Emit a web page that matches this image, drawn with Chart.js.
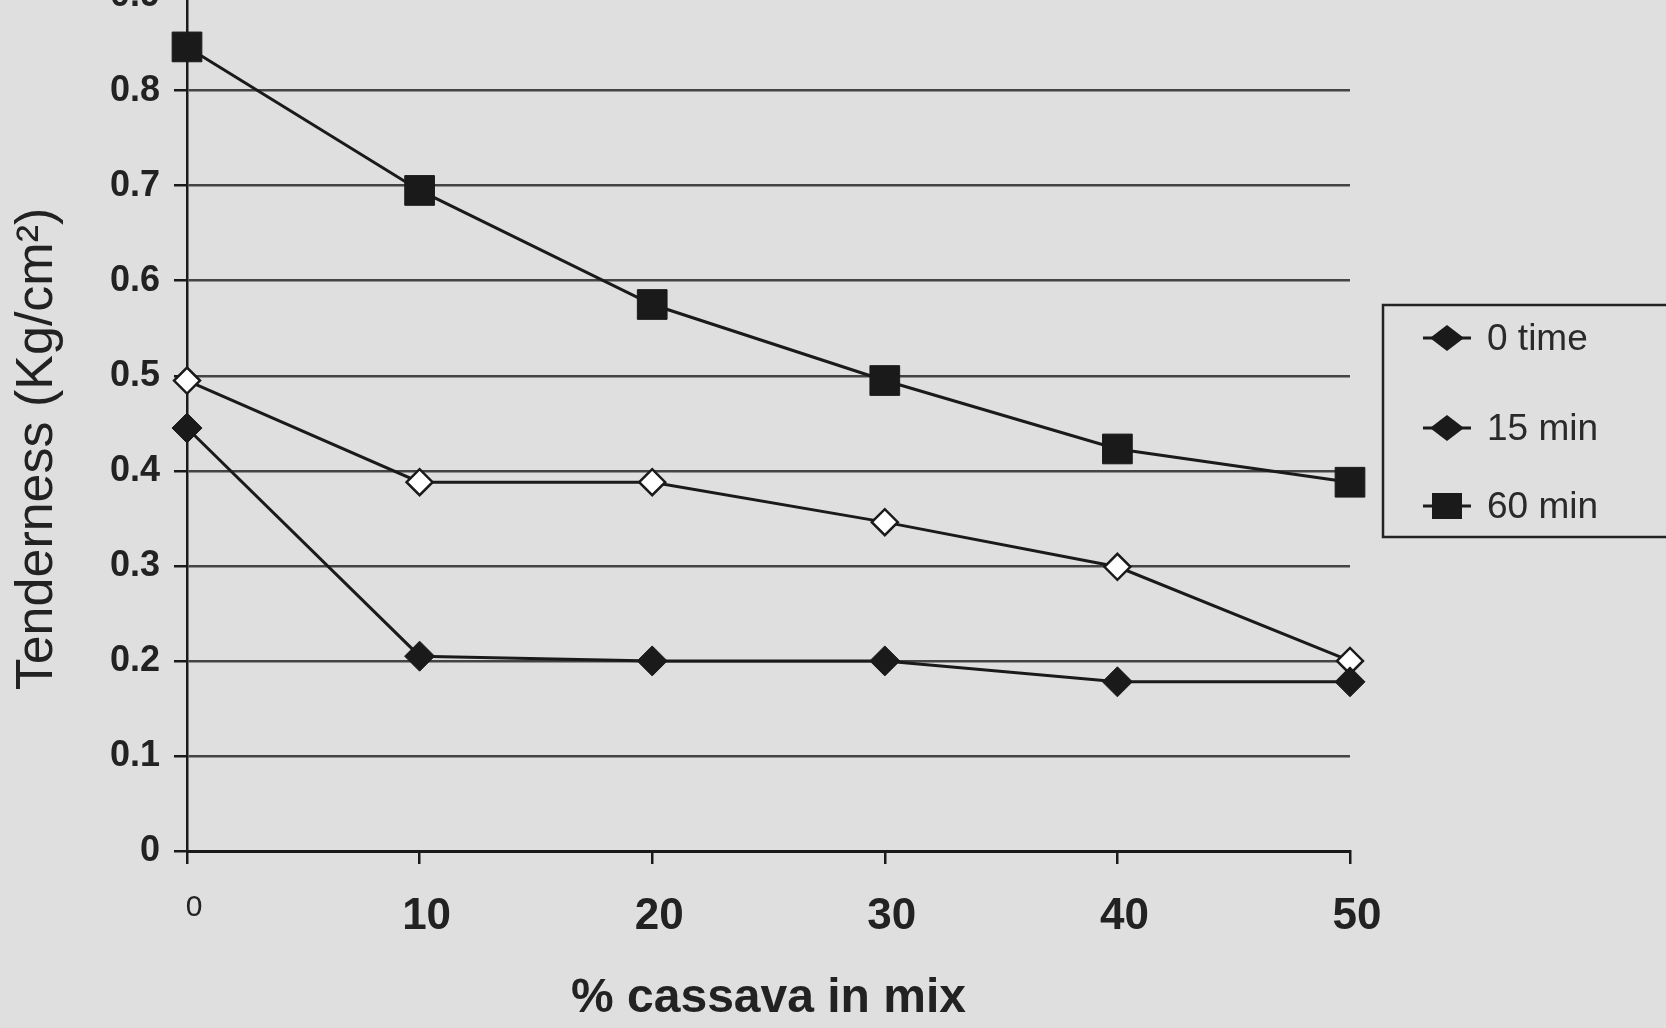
<!DOCTYPE html>
<html><head><meta charset="utf-8">
<script src="https://cdn.jsdelivr.net/npm/chart.js@4.4.0/dist/chart.umd.min.js"></script>
<style>
html,body{margin:0;padding:0;background:#dfdfdf;overflow:hidden;width:1666px;height:1028px;}
#wrap{position:absolute;left:0;top:-40px;width:1666px;height:1068px;}
</style></head><body>
<div id="wrap"><canvas id="c"></canvas></div>
<script>
const cassava = [0, 10, 20, 30, 40, 50];
const time0 = [0.445, 0.205, 0.200, 0.200, 0.178, 0.178];
const min15 = [0.495, 0.388, 0.388, 0.346, 0.299, 0.200];
const min60 = [0.846, 0.695, 0.575, 0.495, 0.423, 0.388];
const seriesLabels = ['0 time', '15 min', '60 min'];
const xTicks = [0, 10, 20, 30, 40, 50];
const yTicks = [0, 0.1, 0.2, 0.3, 0.4, 0.5, 0.6, 0.7, 0.8, 0.9];
const xTitle = '% cassava in mix';
const yTitle = 'Tenderness (Kg/cm\u00B2)';

const FONT = "'Liberation Sans', Arial, Helvetica, sans-serif";
const INK = '#1a1a1a';

function pts(vals) { return cassava.map((x, i) => ({ x: x, y: vals[i] })); }

const boxLegend = {
  id: 'boxLegend',
  afterDraw(chart) {
    const ctx = chart.ctx;
    const left = 1383, top = 345, bottom = 577, right = 1720;
    ctx.save();
    ctx.strokeStyle = '#222';
    ctx.lineWidth = 2.5;
    ctx.strokeRect(left, top, right - left, bottom - top);
    const mx = 1447, tx = 1487;
    const rows = [378, 468, 546];
    chart.data.datasets.forEach((ds, i) => {
      const y = rows[i];
      ctx.strokeStyle = INK; ctx.lineWidth = 3;
      ctx.beginPath(); ctx.moveTo(mx - 24, y); ctx.lineTo(mx + 24, y); ctx.stroke();
      ctx.fillStyle = INK;
      ctx.beginPath();
      if (ds.pointStyle === 'rect') {
        ctx.rect(mx - 15, y - 13, 30, 26);
      } else {
        ctx.moveTo(mx - 17, y); ctx.lineTo(mx, y - 13); ctx.lineTo(mx + 17, y); ctx.lineTo(mx, y + 13); ctx.closePath();
      }
      ctx.fill();
      ctx.font = '37px ' + FONT;
      ctx.fillStyle = '#2a2a2a';
      ctx.textBaseline = 'middle';
      ctx.textAlign = 'left';
      ctx.fillText(ds.label, tx, y + 2);
    });
    ctx.restore();
  }
};

// y-axis title, placed where the original figure has it (slightly below the axis centre)
const yAxisTitle = {
  id: 'yAxisTitle',
  afterDraw(chart) {
    const ctx = chart.ctx;
    ctx.save();
    ctx.translate(38, 489);
    ctx.rotate(-Math.PI / 2);
    ctx.font = '52px ' + FONT;
    ctx.fillStyle = '#222';
    ctx.textAlign = 'center';
    ctx.textBaseline = 'middle';
    ctx.fillText(yTitle, 0, 0);
    ctx.restore();
  }
};

new Chart(document.getElementById('c'), {
  type: 'line',
  data: {
    datasets: [
      { label: seriesLabels[0], data: pts(time0), borderColor: INK, borderWidth: 3,
        pointStyle: 'rectRot', pointRadius: 15, pointBackgroundColor: INK, pointBorderColor: INK, pointBorderWidth: 1, clip: false, tension: 0 },
      { label: seriesLabels[1], data: pts(min15), borderColor: INK, borderWidth: 3,
        pointStyle: 'rectRot', pointRadius: 13, pointBackgroundColor: '#ffffff', pointBorderColor: INK, pointBorderWidth: 2.5, clip: false, tension: 0 },
      { label: seriesLabels[2], data: pts(min60), borderColor: INK, borderWidth: 3,
        pointStyle: 'rect', pointRadius: 21, pointBackgroundColor: INK, pointBorderColor: INK, pointBorderWidth: 1, clip: false, tension: 0 }
    ]
  },
  options: {
    responsive: true,
    maintainAspectRatio: false,
    animation: false,
    devicePixelRatio: 1,
    layout: { padding: { left: 9, top: 29, right: 316, bottom: 0 } },
    plugins: { legend: { display: false }, tooltip: { enabled: false } },
    scales: {
      x: {
        type: 'linear', min: 0, max: 50,
        afterBuildTicks: s => { s.ticks = xTicks.map(v => ({ value: v })); },
        afterFit: s => { s.height = 177; },
        grid: { display: true, drawOnChartArea: false, drawTicks: true, tickLength: 13, tickColor: INK, lineWidth: 2.5 },
        border: { display: true, color: INK, width: 3 },
        ticks: {
          padding: 26, labelOffset: 7, color: '#222',
          font: c => c.index === 0 ? { family: FONT, size: 30, weight: 'normal' } : { family: FONT, size: 44, weight: 'bold' }
        },
        title: { display: true, text: xTitle, color: '#222', font: { family: FONT, size: 48, weight: 'bold' }, padding: { top: 0, bottom: 0 } }
      },
      y: {
        type: 'linear', min: 0, max: 0.9,
        afterBuildTicks: s => { s.ticks = yTicks.map(v => ({ value: v })); },
        afterFit: s => { s.width = 178; },
        grid: { display: true, drawOnChartArea: true, drawTicks: true, tickLength: 13, color: '#444', tickColor: INK, lineWidth: 2.5 },
        border: { display: true, color: INK, width: 2.5 },
        ticks: { padding: 14, color: '#222', font: { family: FONT, size: 36, weight: 'bold' } },
        title: { display: false, text: yTitle }
      }
    }
  },
  plugins: [boxLegend, yAxisTitle]
});
</script>
</body></html>
